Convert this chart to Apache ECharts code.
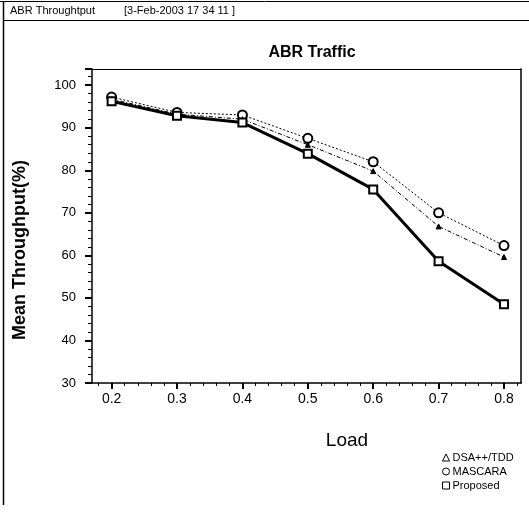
<!DOCTYPE html>
<html>
<head>
<meta charset="utf-8">
<script src="https://cdn.jsdelivr.net/npm/echarts@6/dist/echarts.min.js"></script>
<style>
  html, body { margin: 0; padding: 0; background: #fff; }
  #chart { width: 529px; height: 527px; }
</style>
</head>
<body>
<div id="chart"></div>
<script>
// loads on the x axis
const loads = [0.2, 0.3, 0.4, 0.5, 0.6, 0.7, 0.8];
const xTicks = [0.2, 0.3, 0.4, 0.5, 0.6, 0.7, 0.8];
const xMinorTicks = [0.18, 0.22, 0.24, 0.26, 0.28, 0.32, 0.34, 0.36, 0.38, 0.42, 0.44, 0.46, 0.48,
  0.52, 0.54, 0.56, 0.58, 0.62, 0.64, 0.66, 0.68, 0.72, 0.74, 0.76, 0.78, 0.82];
// mean throughput (%)
const dsaTdd = [96.7, 93.2, 92.0, 86.0, 79.8, 66.8, 59.6];
const mascara = [97.2, 93.6, 93.0, 87.5, 82.0, 70.0, 62.3];
const proposed = [96.2, 92.8, 91.2, 83.9, 75.5, 58.6, 48.5];

let myChart = echarts.init(document.getElementById('chart'));
const font = 'Liberation Sans, Arial, sans-serif';

function pairs(vals) {
    return loads.map((x, i) => [x, vals[i]]);
}

const hollow = { color: '#fff', borderColor: '#000', borderWidth: 1 };

let option = {
    backgroundColor: '#fff',
    animation: false,
    textStyle: { fontFamily: font, color: '#000' },
    title: {
        text: 'ABR Traffic',
        left: 307,
        top: 40,
        textAlign: 'center',
        textStyle: { fontSize: 16, fontWeight: 'bold', color: '#000', fontFamily: font },
    },
    legend: {
        data: [
            { name: 'DSA++/TDD', icon: 'triangle', itemStyle: hollow },
            { name: 'MASCARA', icon: 'circle', itemStyle: hollow },
            { name: 'Proposed', icon: 'rect', itemStyle: hollow },
        ],
        orient: 'vertical',
        left: 437,
        top: 447,
        itemGap: 3,
        itemWidth: 7,
        itemHeight: 7,
        textStyle: { fontSize: 11, color: '#000', fontFamily: font, padding: [0, 0, 0, -2] },
        inactiveColor: '#000',
    },
    grid: { left: 92, right: 8, top: 69, bottom: 144, containLabel: false },
    xAxis: [
        {
            type: 'value',
            min: 0.17,
            max: 0.826,
            axisLine: { lineStyle: { color: '#000', width: 1.5 } },
            axisTick: { customValues: xTicks, length: 6, inside: false, lineStyle: { color: '#000', width: 2 } },
            axisLabel: { customValues: xTicks, fontSize: 14, color: '#000', margin: 9, fontFamily: font,
                formatter: v => v.toFixed(1) },
            splitLine: { show: false },
        },
        {
            type: 'value',
            min: 0.17,
            max: 0.826,
            position: 'bottom',
            axisLine: { show: false },
            axisTick: { customValues: xMinorTicks, length: 3, lineStyle: { color: '#000', width: 1 } },
            axisLabel: { show: false },
            splitLine: { show: false },
        },
        {
            type: 'value',
            min: 0.17,
            max: 0.826,
            position: 'top',
            axisLine: { lineStyle: { color: '#000', width: 1 } },
            axisTick: { show: false },
            axisLabel: { show: false },
            splitLine: { show: false },
        },
    ],
    yAxis: [
        {
            type: 'value',
            min: 30,
            max: 103.8,
            interval: 10,
            axisLine: { show: true, lineStyle: { color: '#000', width: 1.5 } },
            axisTick: { length: 7, lineStyle: { color: '#000', width: 2 } },
            minorTick: { show: true, splitNumber: 5, length: 4, lineStyle: { color: '#000', width: 1 } },
            axisLabel: { fontSize: 13, color: '#000', margin: 16, fontFamily: font,
                showMaxLabel: false },
            splitLine: { show: false },
        },
        {
            type: 'value',
            min: 30,
            max: 103.8,
            position: 'right',
            axisLine: { show: true, lineStyle: { color: '#000', width: 1.5 } },
            axisTick: { show: false },
            axisLabel: { show: false },
            splitLine: { show: false },
        },
    ],
    series: [
        {
            name: 'DSA++/TDD',
            type: 'line',
            data: pairs(dsaTdd),
            symbol: 'triangle',
            symbolSize: 5,
            itemStyle: { color: '#000', borderColor: '#000', borderWidth: 1 },
            lineStyle: { color: '#000', width: 1, type: [4, 2, 1, 2] },
            z: 3,
        },
        {
            name: 'MASCARA',
            type: 'line',
            data: pairs(mascara),
            symbol: 'emptyCircle',
            symbolSize: 9,
            itemStyle: { color: '#000', borderWidth: 1 },
            lineStyle: { color: '#000', width: 1, type: [2, 2] },
            z: 2,
        },
        {
            name: 'Proposed',
            type: 'line',
            data: pairs(proposed),
            symbol: 'emptyRect',
            symbolSize: 8,
            itemStyle: { color: '#000', borderWidth: 1.2 },
            lineStyle: { color: '#000', width: 3 },
            z: 4,
        },
    ],
    graphic: [
        { type: 'line', shape: { x1: 0, y1: 1.5, x2: 529, y2: 1.5 }, style: { stroke: '#000', lineWidth: 1 } },
        { type: 'line', shape: { x1: 3, y1: 20.5, x2: 529, y2: 20.5 }, style: { stroke: '#000', lineWidth: 1 } },
        { type: 'line', shape: { x1: 3.5, y1: 2, x2: 3.5, y2: 505 }, style: { stroke: '#000', lineWidth: 1.5 } },
        { type: 'text', left: 10, top: 5, style: { text: 'ABR Throughtput', fontSize: 11, fill: '#000', fontFamily: font } },
        { type: 'text', left: 124, top: 5, style: { text: '[3-Feb-2003 17 34 11 ]', fontSize: 11, fill: '#000', fontFamily: font } },
        // axis names, placed as in the reference
        { type: 'text', x: 347, y: 441, style: { text: 'Load', fontSize: 19, fill: '#000', fontFamily: font,
            align: 'center', verticalAlign: 'middle' } },
        { type: 'text', x: 20, y: 250, rotation: Math.PI / 2, style: { text: 'Mean Throughput(%)', fontSize: 18,
            fontWeight: 'bold', fill: '#000', fontFamily: font, align: 'center', verticalAlign: 'middle' } },
    ],
};
myChart.setOption(option);
window.onresize = function () {
    myChart.resize();
};
</script>
</body>
</html>
